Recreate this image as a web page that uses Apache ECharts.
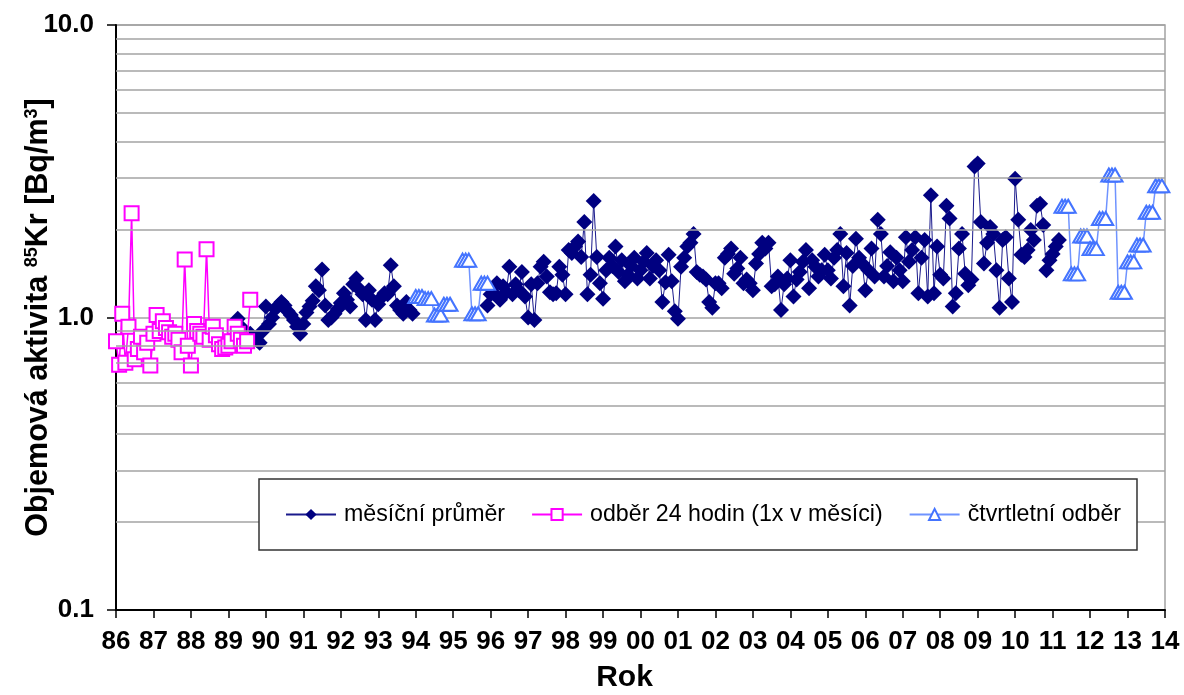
<!DOCTYPE html>
<html>
<head>
<meta charset="utf-8">
<script src="https://cdn.jsdelivr.net/npm/echarts@6/dist/echarts.min.js"></script>
<style>
  html, body { margin: 0; padding: 0; background: #fff; }
  #chart { width: 1184px; height: 695px; }
</style>
</head>
<body>
<div id="chart"></div>
<script>
// Tick labels of the year axis (1986 … 2014)
const yearLabels = ['86','87','88','89','90','91','92','93','94','95','96','97','98','99',
  '00','01','02','03','04','05','06','07','08','09','10','11','12','13','14'];

const seriesNames = ['měsíční průměr', 'odběr 24 hodin (1x v měsíci)', 'čtvrtletní odběr'];

// Log-axis gridlines between the decades
const gridValues = [0.2, 0.3, 0.4, 0.5, 0.6, 0.7, 0.8, 0.9, 2, 3, 4, 5, 6, 7, 8, 9];

// 24-hour sample once a month, Bq/m3, starting January 1986
const pinkStart = [1986, 1];
const pinkValues = [0.83, 0.69, 1.03, 0.70, 0.93, 2.27, 0.72, 0.78, 0.86, 0.76, 0.82, 0.685,
  0.88, 1.02, 0.90, 0.97, 0.92, 0.89, 0.86, 0.88, 0.84, 0.76, 1.58, 0.80,
  0.685, 0.95, 0.90, 0.88, 0.86, 1.71, 0.84, 0.93, 0.87, 0.81, 0.78, 0.79,
  0.80, 0.83, 0.93, 0.88, 0.84, 0.80, 0.83, 1.15];

// Monthly mean, Bq/m3, starting April 1989 (null = no monthly value)
const monthlyStart = [1989, 4];
const monthlyValues = [
  0.99, 0.93, 0.90, 0.86, 0.88, 0.85, 0.84, 0.82, 0.90,
  1.09, 0.95, 1.00, 1.07, 1.10, 1.13, 1.10, 1.05, 1.02, 0.98, 0.93, 0.88,
  0.95, 1.04, 1.09, 1.14, 1.28, 1.24, 1.46, 1.10, 0.98, 1.00, 1.03, 1.07,
  1.12, 1.21, 1.15, 1.09, 1.30, 1.36, 1.25, 1.20, 0.98, 1.24, 1.15, 0.98,
  1.11, 1.17, 1.21, 1.20, 1.51, 1.28, 1.10, 1.06, 1.03, 1.13, 1.06, 1.03,
  null, null, null, null, null, null, null, null, null, null, null, null,
  null, null, null, null, null, null, null, null, null, null, null,
  1.10,
  1.20, 1.21, 1.31, 1.15, 1.28, 1.22, 1.49, 1.20, 1.30, 1.24, 1.43, 1.18,
  1.00, 1.30, 0.98, 1.31, 1.49, 1.55, 1.38, 1.22, 1.20, 1.21, 1.49, 1.40,
  1.20, 1.70, 1.66, 1.75, 1.82, 1.61, 2.12, 1.20, 1.40, 2.50, 1.61, 1.31,
  1.16, 1.45, 1.60, 1.50, 1.75, 1.43, 1.57, 1.33, 1.40, 1.50, 1.60, 1.36,
  1.45, 1.55, 1.66, 1.36, 1.50, 1.57, 1.45, 1.13, 1.32, 1.64, 1.33, 1.05,
  0.99, 1.49, 1.60, 1.75, 1.80, 1.93, 1.43, 1.40, 1.38, 1.35, 1.13, 1.08,
  1.31, 1.31, 1.26, 1.60, 1.65, 1.72, 1.41, 1.47, 1.60, 1.31, 1.35, 1.31,
  1.24, 1.53, 1.65, 1.80, 1.72, 1.80, 1.28, 1.30, 1.38, 1.06, 1.30, 1.36,
  1.57, 1.18, 1.35, 1.43, 1.55, 1.70, 1.26, 1.57, 1.49, 1.38, 1.45, 1.64,
  1.45, 1.36, 1.60, 1.70, 1.93, 1.28, 1.66, 1.10, 1.50, 1.86, 1.60, 1.53,
  1.24, 1.45, 1.72, 1.38, 2.16, 1.93, 1.38, 1.50, 1.67, 1.33, 1.60, 1.45,
  1.33, 1.88, 1.55, 1.70, 1.88, 1.21, 1.60, 1.84, 1.18, 2.62, 1.21, 1.75,
  1.40, 1.36, 2.41, 2.18, 1.09, 1.21, 1.72, 1.93, 1.41, 1.29, 1.35, 3.28,
  3.36, 2.12, 1.53, 1.80, 2.04, 1.93, 1.45, 1.08, 1.84, 1.88, 1.36, 1.13,
  2.98, 2.16, 1.64, 1.61, 1.70, 1.99, 1.84, 2.41, 2.45, 2.07, 1.45, 1.57,
  1.65, 1.75, 1.84];

// Quarterly sampling, value repeated for each month of the quarter
const quarterlyStartA = [1994, 1];
const quarterlyValuesA = [1.18, 1.18, 1.18, 1.16, 1.16, 1.16, 1.02, 1.02, 1.02,
  1.11, 1.11, 1.11, null, null, null, 1.57, 1.57, 1.57, 1.03, 1.03, 1.03,
  1.31, 1.31, 1.31];
const quarterlyStartB = [2011, 4];
const quarterlyValuesB = [2.40, 2.40, 2.40, 1.41, 1.41, 1.41, 1.90, 1.90, 1.90,
  1.72, 1.72, 1.72, 2.18, 2.18, 2.18, 3.07, 3.07, 3.07, 1.22, 1.22, 1.22,
  1.55, 1.55, 1.55, 1.77, 1.77, 1.77, 2.29, 2.29, 2.29, 2.82, 2.82, 2.82];

// [decimal year, value] pairs for a monthly run
function monthly(start, values) {
  return values.map((v, i) => [start[0] + (start[1] - 1 + i) / 12, v == null ? '-' : v]);
}

const FONT = 'Arial, "Liberation Sans", sans-serif';
const GRID_COLOR = '#a3a3a3';

const chart = echarts.init(document.getElementById('chart'), null, { renderer: 'canvas' });

chart.setOption({
  animation: false,
  backgroundColor: '#fff',
  grid: {
    left: 116, right: 19, top: 25, bottom: 85,
    containLabel: false, outerBoundsMode: 'none',
    show: true, borderColor: GRID_COLOR, borderWidth: 1.5, backgroundColor: 'transparent'
  },
  legend: {
    data: seriesNames,
    left: 259, top: 479,
    itemWidth: 50, itemHeight: 14, itemGap: 26,
    padding: [24, 16, 24, 26],
    borderColor: '#333', borderWidth: 1.5, backgroundColor: '#fff',
    textStyle: { fontFamily: FONT, fontSize: 23.2, color: '#000', padding: [0, 0, 0, 3] },
    selectedMode: false,
    z: 10
  },
  xAxis: {
    type: 'value', min: 1986, max: 2014, interval: 1,
    axisLine: { show: true, lineStyle: { color: '#000', width: 2 } },
    axisTick: { show: true, length: 8, lineStyle: { color: '#000', width: 1.5 } },
    axisLabel: {
      formatter: v => yearLabels[Math.round(v - 1986)],
      fontFamily: FONT, fontSize: 26, fontWeight: 'bold', color: '#000', margin: 19
    },
    splitLine: { show: false },
    name: 'Rok', nameLocation: 'middle', nameGap: 53, nameMoveOverlap: false,
    nameTextStyle: { fontFamily: FONT, fontSize: 30, fontWeight: 'bold', color: '#000', padding: [0, 32, 0, 0] }
  },
  yAxis: {
    type: 'log', logBase: 10, min: 0.1, max: 10,
    axisLine: { show: true, lineStyle: { color: '#000', width: 2 } },
    axisTick: { show: true, length: 9, lineStyle: { color: '#000', width: 1.5 } },
    axisLabel: {
      formatter: v => Number(v).toFixed(1),
      fontFamily: FONT, fontSize: 26, fontWeight: 'bold', color: '#000', margin: 22
    },
    splitLine: { show: true, lineStyle: { color: GRID_COLOR, width: 1.5 } },
    minorTick: { show: false }, minorSplitLine: { show: false },
    name: '{t|Objemová aktivita }{s|85}{t|Kr [Bq/m}{s|3}{t|]}',
    nameLocation: 'middle', nameGap: 62, nameRotate: 90, nameMoveOverlap: false,
    nameTextStyle: {
      rich: {
        t: { fontFamily: FONT, fontSize: 30.5, fontWeight: 'bold', color: '#000' },
        s: { fontFamily: FONT, fontSize: 18, fontWeight: 'bold', color: '#000', verticalAlign: 'top' }
      }
    }
  },
  series: [
    {
      // intermediate gridlines of the log scale
      type: 'line', data: [], z: 1, silent: true,
      markLine: {
        silent: true, symbol: ['none', 'none'], label: { show: false },
        lineStyle: { color: GRID_COLOR, width: 1.5, type: 'solid' },
        emphasis: { disabled: true },
        data: gridValues.map(v => ({ yAxis: v }))
      }
    },
    {
      name: seriesNames[0], type: 'line', z: 2,
      data: monthly(monthlyStart, monthlyValues),
      symbol: 'diamond', symbolSize: 16, showAllSymbol: true, connectNulls: false,
      itemStyle: { color: '#000080' },
      lineStyle: { color: '#1a1a8c', width: 1 },
      emphasis: { disabled: true }
    },
    {
      name: seriesNames[1], type: 'line', z: 3,
      data: monthly(pinkStart, pinkValues),
      symbol: 'rect', symbolSize: 14, showAllSymbol: true,
      itemStyle: { color: '#fff', borderColor: '#ff00ff', borderWidth: 2 },
      lineStyle: { color: '#ff00ff', width: 1.5 },
      emphasis: { disabled: true }
    },
    {
      name: seriesNames[2], type: 'line', z: 4,
      data: monthly(quarterlyStartA, quarterlyValuesA)
        .concat([[1996, '-']])
        .concat(monthly(quarterlyStartB, quarterlyValuesB)),
      symbol: 'triangle', symbolSize: [15, 13], showAllSymbol: true, connectNulls: false,
      itemStyle: { color: '#fff', borderColor: '#4474ff', borderWidth: 2 },
      lineStyle: { color: '#6f93ff', width: 1.5 },
      emphasis: { disabled: true }
    }
  ]
});
</script>
</body>
</html>
